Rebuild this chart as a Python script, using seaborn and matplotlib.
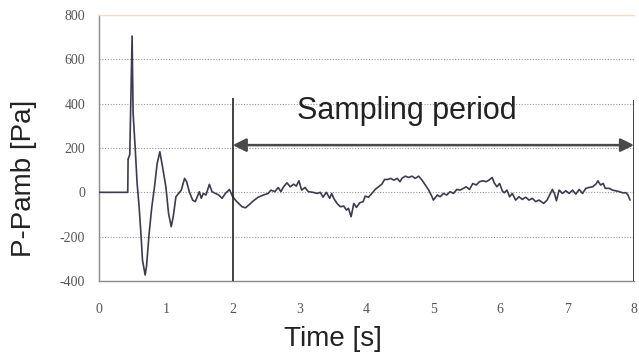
import matplotlib
matplotlib.use("Agg")
import matplotlib.pyplot as plt
import seaborn as sns
import pandas as pd

# ---- data ----
time_s = [0.0, 0.43, 0.435, 0.46, 0.47, 0.495, 0.51, 0.54, 0.57, 0.60, 0.63, 0.65, 0.69, 0.71,
          0.75, 0.79, 0.83, 0.87, 0.91, 0.95, 1.00, 1.04, 1.08, 1.11, 1.15, 1.19, 1.23, 1.28,
          1.31, 1.35, 1.40, 1.44, 1.47, 1.50, 1.53, 1.56, 1.60, 1.65, 1.69, 1.74, 1.79, 1.84,
          1.89, 1.95, 2.00, 2.06, 2.14, 2.19, 2.24, 2.31, 2.38, 2.46, 2.53, 2.57, 2.63, 2.68,
          2.72, 2.76, 2.81, 2.86, 2.91, 2.95, 2.99, 3.03, 3.08, 3.13, 3.20, 3.26, 3.31, 3.35,
          3.40, 3.45, 3.48, 3.51, 3.56, 3.61, 3.66, 3.70, 3.73, 3.77, 3.81, 3.85, 3.90, 3.95,
          3.98, 4.03, 4.08, 4.13, 4.18, 4.23, 4.27, 4.32, 4.36, 4.41, 4.46, 4.50, 4.53, 4.58,
          4.63, 4.68, 4.73, 4.78, 4.83, 4.88, 4.93, 4.98, 5.00, 5.04, 5.06, 5.10, 5.15, 5.20,
          5.25, 5.30, 5.35, 5.40, 5.45, 5.49, 5.54, 5.59, 5.64, 5.69, 5.74, 5.79, 5.83, 5.88,
          5.91, 5.95, 5.99, 6.03, 6.06, 6.10, 6.14, 6.18, 6.23, 6.28, 6.33, 6.38, 6.43, 6.48,
          6.53, 6.58, 6.65, 6.70, 6.75, 6.78, 6.81, 6.84, 6.88, 6.93, 6.98, 7.03, 7.08, 7.13,
          7.18, 7.23, 7.28, 7.33, 7.38, 7.43, 7.46, 7.50, 7.54, 7.57, 7.63, 7.68, 7.72, 7.78,
          7.83, 7.88, 7.91, 7.94]
pressure_pa = [0, 0, 150, 170, 320, 705, 357, 206, 40, -65, -200, -305, -373, -335,
               -185, -65, 25, 131, 183, 115, 25, -95, -155, -110, -20, -5, 10, 63,
               48, 3, -35, -42, -20, 3, -27, -5, -12, 36, 3, -5, -12, -27,
               -5, 13, -20, -42, -65, -70, -57, -38, -22, -12, -5, 10, 3, 22,
               3, 25, 43, 25, 37, 28, 52, 10, 22, 3, 0, -5, 0, -22,
               0, -27, -5, -27, -50, -65, -62, -80, -72, -110, -50, -68, -47, -42,
               -17, -22, -5, 13, 25, 37, 58, 58, 63, 55, 63, 48, 63, 73,
               67, 73, 63, 73, 55, 33, 10, -20, -35, -20, -12, -20, -5, -12,
               3, -5, 13, 10, 18, 25, 13, 40, 33, 48, 52, 48, 55, 67,
               43, 25, 40, 7, -2, 10, -20, -5, -35, -20, -32, -22, -35, -27,
               -42, -35, -50, -35, -5, 13, -5, -38, 10, -5, 7, -5, 10, -8,
               13, -5, 18, 22, 25, 37, 52, 33, 40, 18, 18, 10, 7, 3,
               -2, -2, -12, -35]

x_ticks = [0, 1, 2, 3, 4, 5, 6, 7, 8]
y_ticks = [-400, -200, 0, 200, 400, 600, 800]
grid_levels = [-200, 0, 200, 400, 600]

sampling_start = 2
sampling_end = 8
sampling_label = "Sampling period"
marker_top_start = 425
marker_top_end = 415
arrow_level = 213

df = pd.DataFrame({"Time": time_s, "P": pressure_pa})

sns.set_theme(style="white")
plt.rcParams["font.family"] = ["Liberation Sans", "DejaVu Sans"]

fig = plt.figure(figsize=(6.39, 3.58), dpi=100)
ax = fig.add_axes([99 / 639, 1 - 281 / 358, 535 / 639, 266 / 358])

for lvl in grid_levels:
    ax.axhline(lvl, color="#9a9a9a", lw=0.8, ls=(0, (1, 1.5)), zorder=0)

sns.lineplot(data=df, x="Time", y="P", estimator=None, sort=False,
             color="#3e3a50", lw=1.2, ax=ax, zorder=3)

# sampling period markers
ax.vlines([sampling_start], -400, marker_top_start, color="#222222", lw=1.2, zorder=4)
ax.vlines([sampling_end], -400, marker_top_end, color="#222222", lw=1.2, zorder=4)
ax.annotate("", xy=(sampling_start, arrow_level), xytext=(sampling_end, arrow_level),
            arrowprops=dict(arrowstyle="<|-|>", color="#4a4a4a", lw=1.8,
                            mutation_scale=20, shrinkA=0, shrinkB=0), zorder=5)
ax.text(4.61, 330, sampling_label, ha="center", va="baseline", fontsize=22,
        color="#222222", family="Liberation Sans")

ax.set_xlim(0, 8)
ax.set_ylim(-400, 800)
ax.set_xticks(x_ticks)
ax.set_yticks(y_ticks)
ax.set_xticklabels([str(v) for v in x_ticks], family="Liberation Serif", fontsize=10, color="#555555")
ax.set_yticklabels([str(v) for v in y_ticks], family="Liberation Serif", fontsize=10, color="#555555")
ax.tick_params(axis="x", direction="in", length=3, width=0.8, color="#888888", pad=16)
ax.tick_params(axis="y", direction="in", length=3, width=0.8, color="#888888", pad=10)

for side in ["left", "bottom"]:
    ax.spines[side].set_color("#8a8a8a")
    ax.spines[side].set_linewidth(1.0)
ax.spines["top"].set_color("#f3dcc6")
ax.spines["top"].set_linewidth(1.0)
ax.spines["right"].set_visible(False)

ax.set_xlabel("Time [s]", fontsize=20, color="#222222")
ax.set_ylabel("P-Pamb [Pa]", fontsize=20, color="#222222")
ax.xaxis.set_label_coords((333 - 99) / 535, -45 / 266)
ax.yaxis.set_label_coords((37 - 99) / 535, (281 - 178) / 266)

fig.savefig("out.png", dpi=100)
